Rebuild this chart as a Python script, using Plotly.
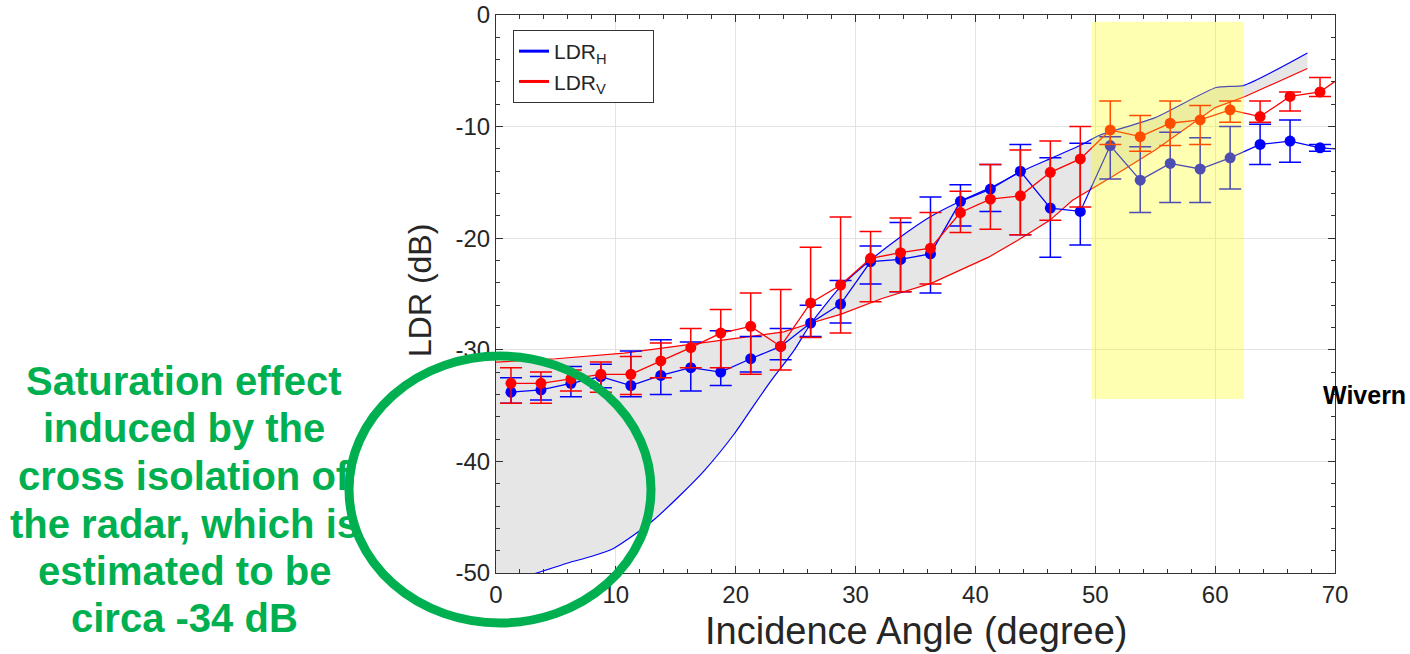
import plotly.graph_objects as go

# ---------------- data ----------------
angle = [1.25, 3.75, 6.25, 8.75, 11.25, 13.75, 16.25, 18.75, 21.25, 23.75,
         26.25, 28.75, 31.25, 33.75, 36.25, 38.75, 41.25, 43.75, 46.25, 48.75,
         51.25, 53.75, 56.25, 58.75, 61.25, 63.75, 66.25, 68.75, 71.25]

ldr_h = [-33.8, -33.6, -33.0, -32.4, -33.2, -32.3, -31.6, -32.0, -30.8, -29.7,
         -27.6, -25.9, -22.1, -21.9, -21.4, -16.7, -15.6, -14.0, -17.3, -17.6,
         -11.7, -14.8, -13.3, -13.8, -12.8, -11.6, -11.3, -11.9, -12.1]
ldr_h_top = [-32.5, -32.4, -31.5, -31.3, -30.1, -29.1, -29.3, -28.3, -28.8, -28.1,
             -26.0, -23.8, -20.7, -18.6, -16.3, -15.2, -13.4, -11.6, -12.8, -11.5,
             -10.9, -11.8, -10.5, -11.0, -10.0, -9.8, -9.4, -11.6, -12.1]
ldr_h_bot = [-34.8, -34.5, -34.2, -33.4, -34.2, -34.0, -33.7, -33.2, -32.0, -30.9,
             -28.8, -27.6, -24.1, -24.8, -24.9, -18.9, -17.6, -19.7, -21.7, -20.6,
             -14.7, -17.7, -16.8, -16.8, -15.6, -13.4, -13.2, -12.2, -12.1]

ldr_v = [-33.0, -33.0, -32.6, -32.2, -32.2, -31.0, -29.8, -28.5, -27.9, -29.7,
         -25.8, -24.2, -21.8, -21.3, -20.9, -17.7, -16.5, -16.2, -14.1, -12.9,
         -10.3, -10.9, -9.7, -9.4, -8.5, -9.1, -7.3, -6.9, -5.0]
ldr_v_top = [-31.6, -32.0, -31.8, -31.1, -30.6, -29.4, -28.1, -26.4, -24.9, -24.6,
             -20.8, -18.1, -19.4, -18.2, -17.7, -15.8, -13.4, -12.1, -11.3, -10.0,
             -7.7, -9.0, -7.7, -8.1, -7.7, -7.7, -6.9, -5.6, -5.0]
ldr_v_bot = [-34.8, -34.8, -33.7, -33.8, -34.0, -32.5, -31.6, -31.6, -32.2, -31.8,
             -28.9, -28.5, -25.7, -24.8, -24.1, -19.5, -19.2, -19.7, -18.4, -17.2,
             -11.6, -12.2, -11.7, -11.6, -9.6, -9.6, -8.6, -7.3, -5.0]

# model envelopes
env_h_x = [0, 3.4, 6, 8, 9.8, 11.5, 13.1, 15.3, 17.4, 19.9, 21.5, 23, 24.9, 26.3,
           28.7, 31.2, 33.6, 36.2, 38.9, 41.4, 43.7, 46.4, 48.9, 50.3, 55, 60.1,
           62.4, 67.7]
env_h_y = [-51.0, -50.0, -49.1, -48.5, -47.8, -46.6, -45.3, -43.1, -40.8, -37.5,
           -35.0, -32.7, -30.0, -27.6, -24.4, -22.0, -20.0, -18.1, -16.6, -15.4,
           -14.1, -12.8, -11.6, -10.8, -9.2, -6.5, -6.3, -3.4]
env_v_x = [0, 5, 10.7, 17.1, 24, 26.3, 28.8, 32.2, 36.4, 41.1, 43.5, 46.2, 48.1,
           51.4, 55, 60, 62.5, 67.7]
env_v_y = [-31.1, -30.8, -30.3, -29.4, -28.4, -27.6, -26.8, -25.4, -24.0, -21.7,
           -20.2, -18.4, -16.6, -14.5, -12.1, -8.3, -7.3, -4.8]

x_ticks = [0, 10, 20, 30, 40, 50, 60, 70]
y_ticks = [0, -10, -20, -30, -40, -50]

highlight_x = [49.7, 62.4]
highlight_y = [-34.4, -0.6]

note_lines = ["Saturation effect", "induced by the", "cross isolation of",
              "the radar, which is", "estimated to be", "circa -34 dB"]

# ---------------- layout geometry ----------------
W, H = 1410, 654
ML, MR, MT, MB = 496, 75, 15, 81
PW, PH = W - ML - MR, H - MT - MB


def px(xp):
    return (xp - ML) / PW


def py(yp):
    return (H - MB - yp) / PH


FONT = "Liberation Sans, Arial, sans-serif"
BLUE = "#0000ff"
RED = "#ff0000"
GREEN = "#00b050"

fig = go.Figure()

# grey envelope band
fig.add_trace(go.Scatter(
    x=env_h_x + env_v_x[::-1], y=env_h_y + env_v_y[::-1],
    fill="toself", fillcolor="#e6e6e6", line=dict(width=0),
    mode="lines", showlegend=False, hoverinfo="skip"))
fig.add_trace(go.Scatter(x=env_h_x, y=env_h_y, mode="lines",
                         line=dict(color=BLUE, width=1.2, shape="spline", smoothing=0.6),
                         showlegend=False))
fig.add_trace(go.Scatter(x=env_v_x, y=env_v_y, mode="lines",
                         line=dict(color=RED, width=1.2), showlegend=False))


def add_series(y, top, bot, color):
    plus = [t - v for t, v in zip(top, y)]
    minus = [v - b for v, b in zip(y, bot)]
    fig.add_trace(go.Scatter(
        x=angle, y=y, mode="lines+markers",
        line=dict(color=color, width=1.3),
        marker=dict(color=color, size=11),
        error_y=dict(type="data", array=plus, arrayminus=minus, symmetric=False,
                     color=color, thickness=1.5, width=11),
        showlegend=False))


add_series(ldr_h, ldr_h_top, ldr_h_bot, BLUE)
add_series(ldr_v, ldr_v_top, ldr_v_bot, RED)

# legend entries (line only)
NB = "\u00a0" * 7
fig.add_trace(go.Scatter(x=[None], y=[None], mode="lines", name="LDR<sub>H</sub>" + NB,
                         line=dict(color=BLUE, width=3)))
fig.add_trace(go.Scatter(x=[None], y=[None], mode="lines", name="LDR<sub>V</sub>" + NB,
                         line=dict(color=RED, width=3)))

axis_common = dict(
    showline=True, linecolor="#333333", linewidth=1, mirror="ticks",
    ticks="inside", ticklen=7, tickcolor="#333333", automargin=False,
    showgrid=True, gridcolor="#e3e3e3", gridwidth=1, zeroline=False,
    tickfont=dict(family=FONT, size=24, color="#262626"),
)

fig.update_xaxes(range=[0, 70], tickmode="array", tickvals=x_ticks,
                 ticktext=[str(v) for v in x_ticks],
                 minor=dict(dtick=2, ticks="inside", ticklen=4, tickcolor="#333333",
                            showgrid=False),
                 **axis_common)
fig.update_yaxes(range=[-50, 0], tickmode="array", tickvals=y_ticks,
                 ticktext=[str(v) for v in y_ticks],
                 minor=dict(dtick=2, ticks="inside", ticklen=4, tickcolor="#333333",
                            showgrid=False),
                 **axis_common)

shapes = [
    dict(type="rect", xref="x", yref="y", x0=highlight_x[0], x1=highlight_x[1],
         y0=highlight_y[0], y1=highlight_y[1], fillcolor="rgba(255,255,0,0.3)",
         line=dict(width=0), layer="above"),
    dict(type="circle", xref="paper", yref="paper",
         x0=px(349), x1=px(651), y0=py(623), y1=py(356),
         line=dict(color=GREEN, width=9), layer="above"),
]

annotations = [
    dict(text="LDR (dB)", xref="paper", yref="paper", x=px(420), y=py(291),
         textangle=-90, showarrow=False, xanchor="center", yanchor="middle",
         font=dict(family=FONT, size=32, color="#262626")),
    dict(text="Incidence Angle (degree)", xref="paper", yref="paper",
         x=px(916), y=py(631), showarrow=False, xanchor="center", yanchor="middle",
         font=dict(family=FONT, size=38, color="#262626")),
    dict(text="<b>Wivern</b>", xref="paper", yref="paper", x=px(1364), y=py(395),
         showarrow=False, xanchor="center", yanchor="middle",
         font=dict(family=FONT, size=25, color="#000000")),
]
centers = [381, 428, 476, 524, 571, 618]
for line, yc in zip(note_lines, centers):
    annotations.append(dict(
        text="<b>" + line + "</b>", xref="paper", yref="paper", x=px(184), y=py(yc),
        showarrow=False, xanchor="center", yanchor="middle",
        font=dict(family=FONT, size=40, color=GREEN)))

fig.update_layout(
    width=W, height=H,
    margin=dict(l=ML, r=MR, t=MT, b=MB, pad=0, autoexpand=False),
    paper_bgcolor="white", plot_bgcolor="white",
    shapes=shapes, annotations=annotations,
    legend=dict(x=px(513), y=py(30), xanchor="left", yanchor="top",
                bgcolor="white", bordercolor="#333333", borderwidth=1,
                font=dict(family=FONT, size=21, color="#262626"),
                tracegroupgap=0),
    font=dict(family=FONT),
)

fig.write_html("out.html")
